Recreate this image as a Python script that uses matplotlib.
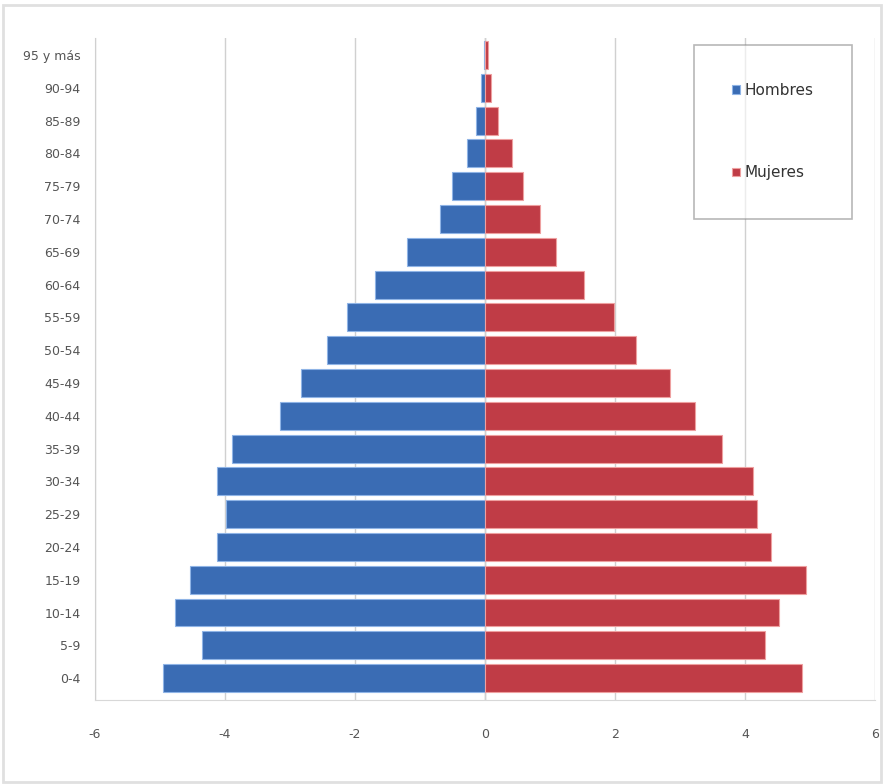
import matplotlib.pyplot as plt
import numpy as np

# grupos de edad (de abajo hacia arriba)
edades = ['0-4', '5-9', '10-14', '15-19', '20-24', '25-29', '30-34',
          '35-39', '40-44', '45-49', '50-54', '55-59', '60-64', '65-69',
          '70-74', '75-79', '80-84', '85-89', '90-94', '95 y más']

hombres = [4.95, 4.35, 4.77, 4.54, 4.12, 3.98, 4.12, 3.88, 3.15, 2.82,
           2.42, 2.12, 1.69, 1.20, 0.69, 0.51, 0.28, 0.14, 0.06, 0.02]
mujeres = [4.88, 4.31, 4.52, 4.94, 4.40, 4.18, 4.12, 3.65, 3.23, 2.85,
           2.32, 1.98, 1.52, 1.09, 0.85, 0.58, 0.42, 0.20, 0.09, 0.05]

xticks = [-6, -4, -2, 0, 2, 4, 6]

fig = plt.figure(figsize=(8.84, 7.84), dpi=100)
ax = fig.add_axes([0.107, 0.107, 0.883, 0.845])

y = np.arange(len(edades))
ax.barh(y, -np.array(hombres), height=0.85, color='#3a6cb4',
        edgecolor='#8fb4e6', linewidth=0.8, label='Hombres', zorder=3)
ax.barh(y, mujeres, height=0.85, color='#c03c46',
        edgecolor='#eea0a0', linewidth=0.8, label='Mujeres', zorder=3)

ax.set_xlim(-6, 6)
ax.set_ylim(-0.67, len(edades) - 0.47)
ax.set_xticks(xticks)
ax.set_xticklabels([str(v) for v in xticks], fontsize=9, color='#555555')
ax.set_yticks(y)
ax.set_yticklabels(edades, fontsize=9, color='#555555')
ax.tick_params(axis='y', length=0, pad=10)
ax.tick_params(axis='x', length=0, pad=20)

ax.grid(axis='x', color='#d0d0d0', linewidth=1, zorder=0)
ax.axvline(0, color='#c8c8c8', linewidth=1, zorder=0)
for s in ['top', 'right']:
    ax.spines[s].set_visible(False)
ax.spines['left'].set_color('#d0d0d0')
ax.spines['bottom'].set_color('#d8d8d8')

leg = ax.legend(loc='upper right', bbox_to_anchor=(0.97, 0.989),
                borderaxespad=0, fontsize=11,
                labelspacing=4.4, borderpad=2.5, handlelength=0.5,
                handleheight=0.5, handletextpad=0.3, fancybox=False,
                framealpha=0.6, edgecolor='#888888')
leg.get_frame().set_linewidth(1.2)
for t in leg.get_texts():
    t.set_color('#333333')

# marco de la figura
fig.patches.append(plt.Rectangle((0.003, 0.003), 0.994, 0.99,
                                 transform=fig.transFigure, fill=False,
                                 edgecolor='#e0e0e0', linewidth=2))

fig.savefig('out.png', dpi=100)
